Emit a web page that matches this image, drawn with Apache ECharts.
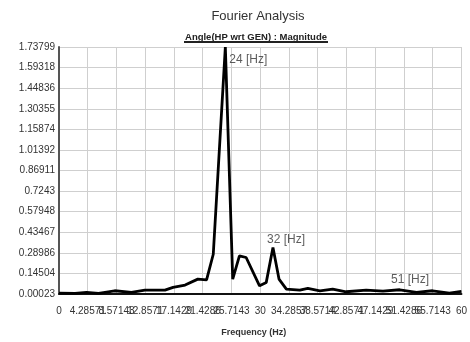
<!DOCTYPE html>
<html>
<head>
<meta charset="utf-8">
<script src="https://cdn.jsdelivr.net/npm/echarts@6/dist/echarts.min.js"></script>
<style>
  html, body { margin: 0; padding: 0; background: #fff; }
  #chart { width: 470px; height: 342px; }
</style>
</head>
<body>
<div id="chart"></div>
<script>
// spectrum
const freqHz = [0, 2.4, 4.1, 5.9, 8.3, 10.8, 12.8, 15.8, 17.0, 18.8, 20.7, 22.0, 23.0, 24.8, 25.9, 26.9, 27.9,
  29.9, 30.9, 31.9, 32.8, 33.9, 35.9, 37.1, 38.9, 40.8, 42.8, 45.8, 48.3, 50.8, 53.3, 55.7, 58.2, 60];
const magnitude = [0.007, 0.005, 0.012, 0.005, 0.023, 0.012, 0.028, 0.028, 0.047, 0.063, 0.105, 0.1, 0.28, 1.73799,
  0.105, 0.269, 0.257, 0.058, 0.082, 0.327, 0.105, 0.035, 0.028, 0.04, 0.023, 0.035, 0.016, 0.028, 0.021, 0.03,
  0.012, 0.023, 0.007, 0.019];

const peakFreqs = [24.8, 31.9, 51];
const peakValues = [1.73799, 0.327, 0.03];
const peakLabels = ['24 [Hz]', '32 [Hz]', '51 [Hz]'];

const yTickLabels = ['0.00023', '0.14504', '0.28986', '0.43467', '0.57948', '0.7243', '0.86911',
  '1.01392', '1.15874', '1.30355', '1.44836', '1.59318', '1.73799'];
const xTickLabels = ['0', '4.28571', '8.57143', '12.8571', '17.1429', '21.4286', '25.7143', '30',
  '34.2857', '38.5714', '42.8571', '47.1429', '51.4286', '55.7143', '60'];

const yMin = Number(yTickLabels[0]);
const yMax = Number(yTickLabels[yTickLabels.length - 1]);
const yStep = (yMax - yMin) / (yTickLabels.length - 1);
const xMax = Number(xTickLabels[xTickLabels.length - 1]);
const xStep = xMax / (xTickLabels.length - 1);

const font = '"Liberation Sans", Arial, sans-serif';

const peakLabelStyles = [
  { position: 'right', distance: 4, offset: [0, 13] },
  { position: 'top', distance: 2, offset: [13, 0] },
  { position: 'top', distance: 4, offset: [9, 0] },
];

const chart = echarts.init(document.getElementById('chart'), null, { renderer: 'canvas' });

// hide the top split line, keep the others light gray
const splitColors = yTickLabels.map((_, i) => (i === yTickLabels.length - 1 ? 'rgba(0,0,0,0)' : '#cfcfcf'));

chart.setOption({
  backgroundColor: '#fff',
  animation: false,
  graphic: [
    {
      type: 'text',
      x: 258,
      y: 16,
      style: {
        text: 'Fourier Analysis',
        font: '13px ' + font,
        fill: '#333',
        align: 'center',
        verticalAlign: 'middle',
      },
    },
    {
      type: 'text',
      x: 256,
      y: 37,
      style: {
        text: 'Angle(HP wrt GEN) : Magnitude',
        font: 'bold 9.5px ' + font,
        fill: '#222',
        align: 'center',
        verticalAlign: 'middle',
      },
    },
    {
      type: 'rect',
      shape: { x: 184, y: 41, width: 144, height: 2 },
      style: { fill: '#222' },
    },
  ],
  grid: {
    left: 59,
    right: 8,
    top: 47,
    bottom: 47,
  },
  xAxis: {
    type: 'value',
    min: 0,
    max: xMax,
    interval: xStep,
    name: 'Frequency (Hz)',
    nameLocation: 'middle',
    nameGap: 34,
    nameTextStyle: { fontFamily: font, fontSize: 9, fontWeight: 'bold', color: '#333', padding: [0, 13, 0, 0] },
    axisLine: { show: true, lineStyle: { color: '#111', width: 2 } },
    axisTick: { show: false },
    splitLine: { show: true, lineStyle: { color: '#cfcfcf', width: 1 } },
    axisLabel: {
      hideOverlap: false,
      margin: 12,
      fontFamily: font,
      fontSize: 10,
      color: '#333',
      formatter: (v) => {
        const i = Math.round(v / xStep);
        return xTickLabels[i] ?? '';
      },
    },
  },
  yAxis: {
    type: 'value',
    min: yMin,
    max: yMax,
    interval: yStep,
    axisLine: { show: true, lineStyle: { color: '#555', width: 2 } },
    axisTick: { show: false },
    splitLine: { show: true, lineStyle: { color: splitColors, width: 1 } },
    axisLabel: {
      hideOverlap: false,
      margin: 4,
      fontFamily: font,
      fontSize: 10,
      color: '#333',
      formatter: (v) => {
        const i = Math.round((v - yMin) / yStep);
        return yTickLabels[i] ?? '';
      },
    },
  },
  series: [
    {
      name: 'Magnitude',
      type: 'line',
      symbol: 'none',
      silent: true,
      lineStyle: { color: '#000', width: 2.8 },
      data: freqHz.map((f, i) => [f, magnitude[i]]),
    },
    {
      name: 'Peaks',
      type: 'scatter',
      symbolSize: 0,
      silent: true,
      data: peakFreqs.map((f, i) => ({
        value: [f, peakValues[i]],
        label: {
          show: true,
          formatter: peakLabels[i],
          fontFamily: font,
          fontSize: 12,
          color: '#333',
          ...peakLabelStyles[i],
        },
      })),
    },
  ],
});
</script>
</body>
</html>
